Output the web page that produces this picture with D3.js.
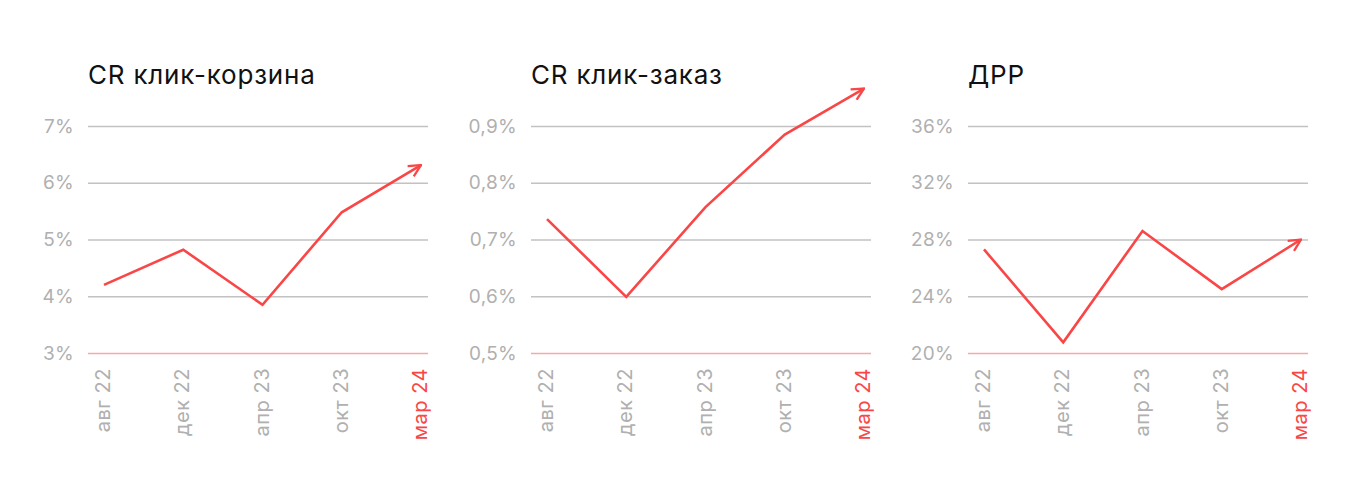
<!DOCTYPE html>
<html>
<head>
<meta charset="utf-8">
<script src="https://cdn.jsdelivr.net/npm/d3@7"></script>
<style>
  body { margin: 0; background: #fff; }
  svg text { font-family: "Inter", "Noto Sans", sans-serif; }
</style>
</head>
<body>
<div id="chart"></div>
<script>
// months on the x axis
const months = ["авг 22", "дек 22", "апр 23", "окт 23", "мар 24"];

const titles = ["CR клик-корзина", "CR клик-заказ", "ДРР"];

// values (percent)
const cartValues = [4.2, 4.82, 3.85, 5.48, 6.31];
const orderValues = [0.736, 0.599, 0.757, 0.885, 0.966];
const drrValues = [27.3, 20.75, 28.6, 24.5, 28.0];

const cartTicks = [3, 4, 5, 6, 7];
const orderTicks = [0.5, 0.6, 0.7, 0.8, 0.9];
const drrTicks = [20, 24, 28, 32, 36];

const panels = [
  { title: titles[0], values: cartValues, ticks: cartTicks, left: 88, fmt: d => d + "%" },
  { title: titles[1], values: orderValues, ticks: orderTicks, left: 531, fmt: d => String(d).replace(".", ",") + "%" },
  { title: titles[2], values: drrValues, ticks: drrTicks, left: 968, fmt: d => d + "%" }
];

const width = 1360, height = 503;
const plotW = 340, plotTop = 126, plotBottom = 353;
const red = "#f94646";

const svg = d3.select("#chart")
  .append("svg")
  .attr("width", width)
  .attr("height", height);

svg.append("defs").append("marker")
  .attr("id", "arrow")
  .attr("viewBox", "0 0 14 14")
  .attr("refX", 13)
  .attr("refY", 7)
  .attr("markerWidth", 14)
  .attr("markerHeight", 14)
  .attr("markerUnits", "userSpaceOnUse")
  .attr("orient", "auto")
  .append("path")
  .attr("d", "M1,1 L13,7 L1,13")
  .attr("fill", "none")
  .attr("stroke", red)
  .attr("stroke-width", 2.3);

panels.forEach(p => {
  const g = svg.append("g").attr("transform", `translate(${p.left},0)`);

  const x = d3.scalePoint().domain(months).range([16, 333]);
  const y = d3.scaleLinear()
    .domain([p.ticks[0], p.ticks[p.ticks.length - 1]])
    .range([plotBottom, plotTop]);

  // title
  g.append("text")
    .attr("x", 0)
    .attr("y", 84)
    .attr("font-size", 26)
    .attr("letter-spacing", 0.8)
    .attr("fill", "#111")
    .text(p.title);

  // gridlines + y labels
  const yAxis = g.append("g")
    .call(d3.axisLeft(y).tickValues(p.ticks).tickSize(-plotW).tickFormat(p.fmt));
  yAxis.select(".domain").remove();
  yAxis.selectAll(".tick line")
    .attr("stroke", (d, i) => i === 0 ? "#f7a9a9" : "#c2c2c2")
    .attr("stroke-width", 1.6);
  yAxis.selectAll(".tick text")
    .attr("x", -14)
    .attr("fill", "#b0b0b0")
    .attr("font-size", 19)
    .attr("letter-spacing", 0.3)
    .style("font-family", "Inter, 'Noto Sans', sans-serif");

  // x labels, rotated
  g.selectAll(".xlab")
    .data(months)
    .enter()
    .append("text")
    .attr("class", "xlab")
    .attr("transform", d => `translate(${x(d) + 6},368) rotate(-90)`)
    .attr("text-anchor", "end")
    .attr("font-size", 20)
    .attr("letter-spacing", 0.5)
    .attr("fill", (d, i) => i === months.length - 1 ? red : "#b0b0b0")
    .text(d => d);

  // line with arrow
  const line = d3.line()
    .x((d, i) => x(months[i]))
    .y(d => y(d));

  g.append("path")
    .datum(p.values)
    .attr("d", line)
    .attr("fill", "none")
    .attr("stroke", red)
    .attr("stroke-width", 2.6)
    .attr("stroke-linejoin", "miter")
    .attr("marker-end", "url(#arrow)");
});
</script>
</body>
</html>
